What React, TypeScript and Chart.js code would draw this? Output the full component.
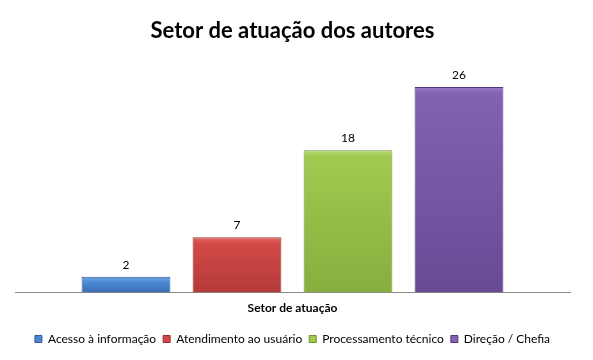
import React, { useEffect, useRef } from "react";
import { Chart, registerables } from "chart.js";

Chart.register(...registerables);

const categories = ["Setor de atuação"];
const seriesNames = ["Acesso à informação", "Atendimento ao usuário", "Processamento técnico", "Direção / Chefia"];
const seriesValues = [[2], [7], [18], [26]];
const solidColors = ["#4A85D0", "#D04644", "#9CC64C", "#7E5DAE"];
const topColors = ["#6FA3E2", "#E06A68", "#B8DC74", "#9A7CC6"];
const midColors = ["#4A88D4", "#D34A48", "#A0CA50", "#8262B2"];
const bottomColors = ["#3A6CB4", "#B23A38", "#86AE3E", "#674A94"];
const borderColors = ["#2E5A9A", "#9A2E2C", "#6E9230", "#52387E"];

const FONT = "Lato, 'Open Sans', sans-serif";

const valueLabels = {
  id: "valueLabels",
  afterDatasetsDraw(chart: any) {
    const ctx = chart.ctx;
    ctx.save();
    ctx.font = `12px ${FONT}`;
    ctx.fillStyle = "#000";
    ctx.textAlign = "center";
    ctx.textBaseline = "middle";
    chart.data.datasets.forEach((ds: any, i: number) => {
      const meta = chart.getDatasetMeta(i);
      meta.data.forEach((el: any, j: number) => {
        ctx.fillText(String(ds.data[j]), el.x, el.y - 12);
      });
    });
    ctx.restore();
  },
};

export default function App() {
  const ref = useRef<HTMLCanvasElement>(null);
  useEffect(() => {
    if (!ref.current) return;
    const chart = new Chart(ref.current, {
      type: "bar",
      data: {
        labels: categories,
        datasets: seriesNames.map((name, i) => ({
          label: name,
          data: seriesValues[i],
          backgroundColor: (c: any) => {
            const ch = c.chart;
            const area = ch.chartArea;
            if (!area || c.raw === undefined) return solidColors[i];
            const y = ch.scales.y;
            const top = y.getPixelForValue(c.raw);
            const bottom = y.getPixelForValue(0);
            if (!isFinite(top) || bottom - top < 1) return solidColors[i];
            const g = ch.ctx.createLinearGradient(0, top, 0, bottom);
            g.addColorStop(0, topColors[i]);
            g.addColorStop(Math.min(0.9, 6 / (bottom - top)), midColors[i]);
            g.addColorStop(1, bottomColors[i]);
            return g;
          },
          borderColor: borderColors[i],
          borderWidth: 1,
          categoryPercentage: 0.8,
          barPercentage: 0.8,
        })),
      },
      options: {
        responsive: true,
        maintainAspectRatio: false,
        animation: false,
        layout: { padding: { left: 7, right: 15, top: 0, bottom: 4 } },
        scales: {
          x: {
            grid: { display: false },
            border: { display: true, color: "#888", width: 1 },
            ticks: { color: "#000", font: { family: FONT, size: 12, weight: "bold" }, padding: 0 },
            afterFit: (s: any) => {
              s.height += 11;
            },
          },
          y: { display: false, min: 0, max: 30 },
        },
        plugins: {
          title: {
            display: true,
            text: "Setor de atuação dos autores",
            color: "#000",
            font: { family: FONT, size: 22, weight: "bold" },
            padding: { top: 10, bottom: 11 },
          },
          legend: {
            position: "bottom",
            labels: {
              color: "#000",
              font: { family: FONT, size: 12 },
              boxWidth: 7,
              boxHeight: 7,
              padding: 7,
              generateLabels: () =>
                seriesNames.map((n, i) => ({
                  text: n,
                  fillStyle: midColors[i],
                  strokeStyle: borderColors[i],
                  lineWidth: 1,
                  datasetIndex: i,
                  hidden: false,
                })),
            },
          },
          tooltip: { enabled: false },
        },
      },
      plugins: [valueLabels],
    });
    return () => chart.destroy();
  }, []);
  return (
    <div style={{ width: 577, height: 351, position: "relative" }}>
      <canvas ref={ref} />
    </div>
  );
}
